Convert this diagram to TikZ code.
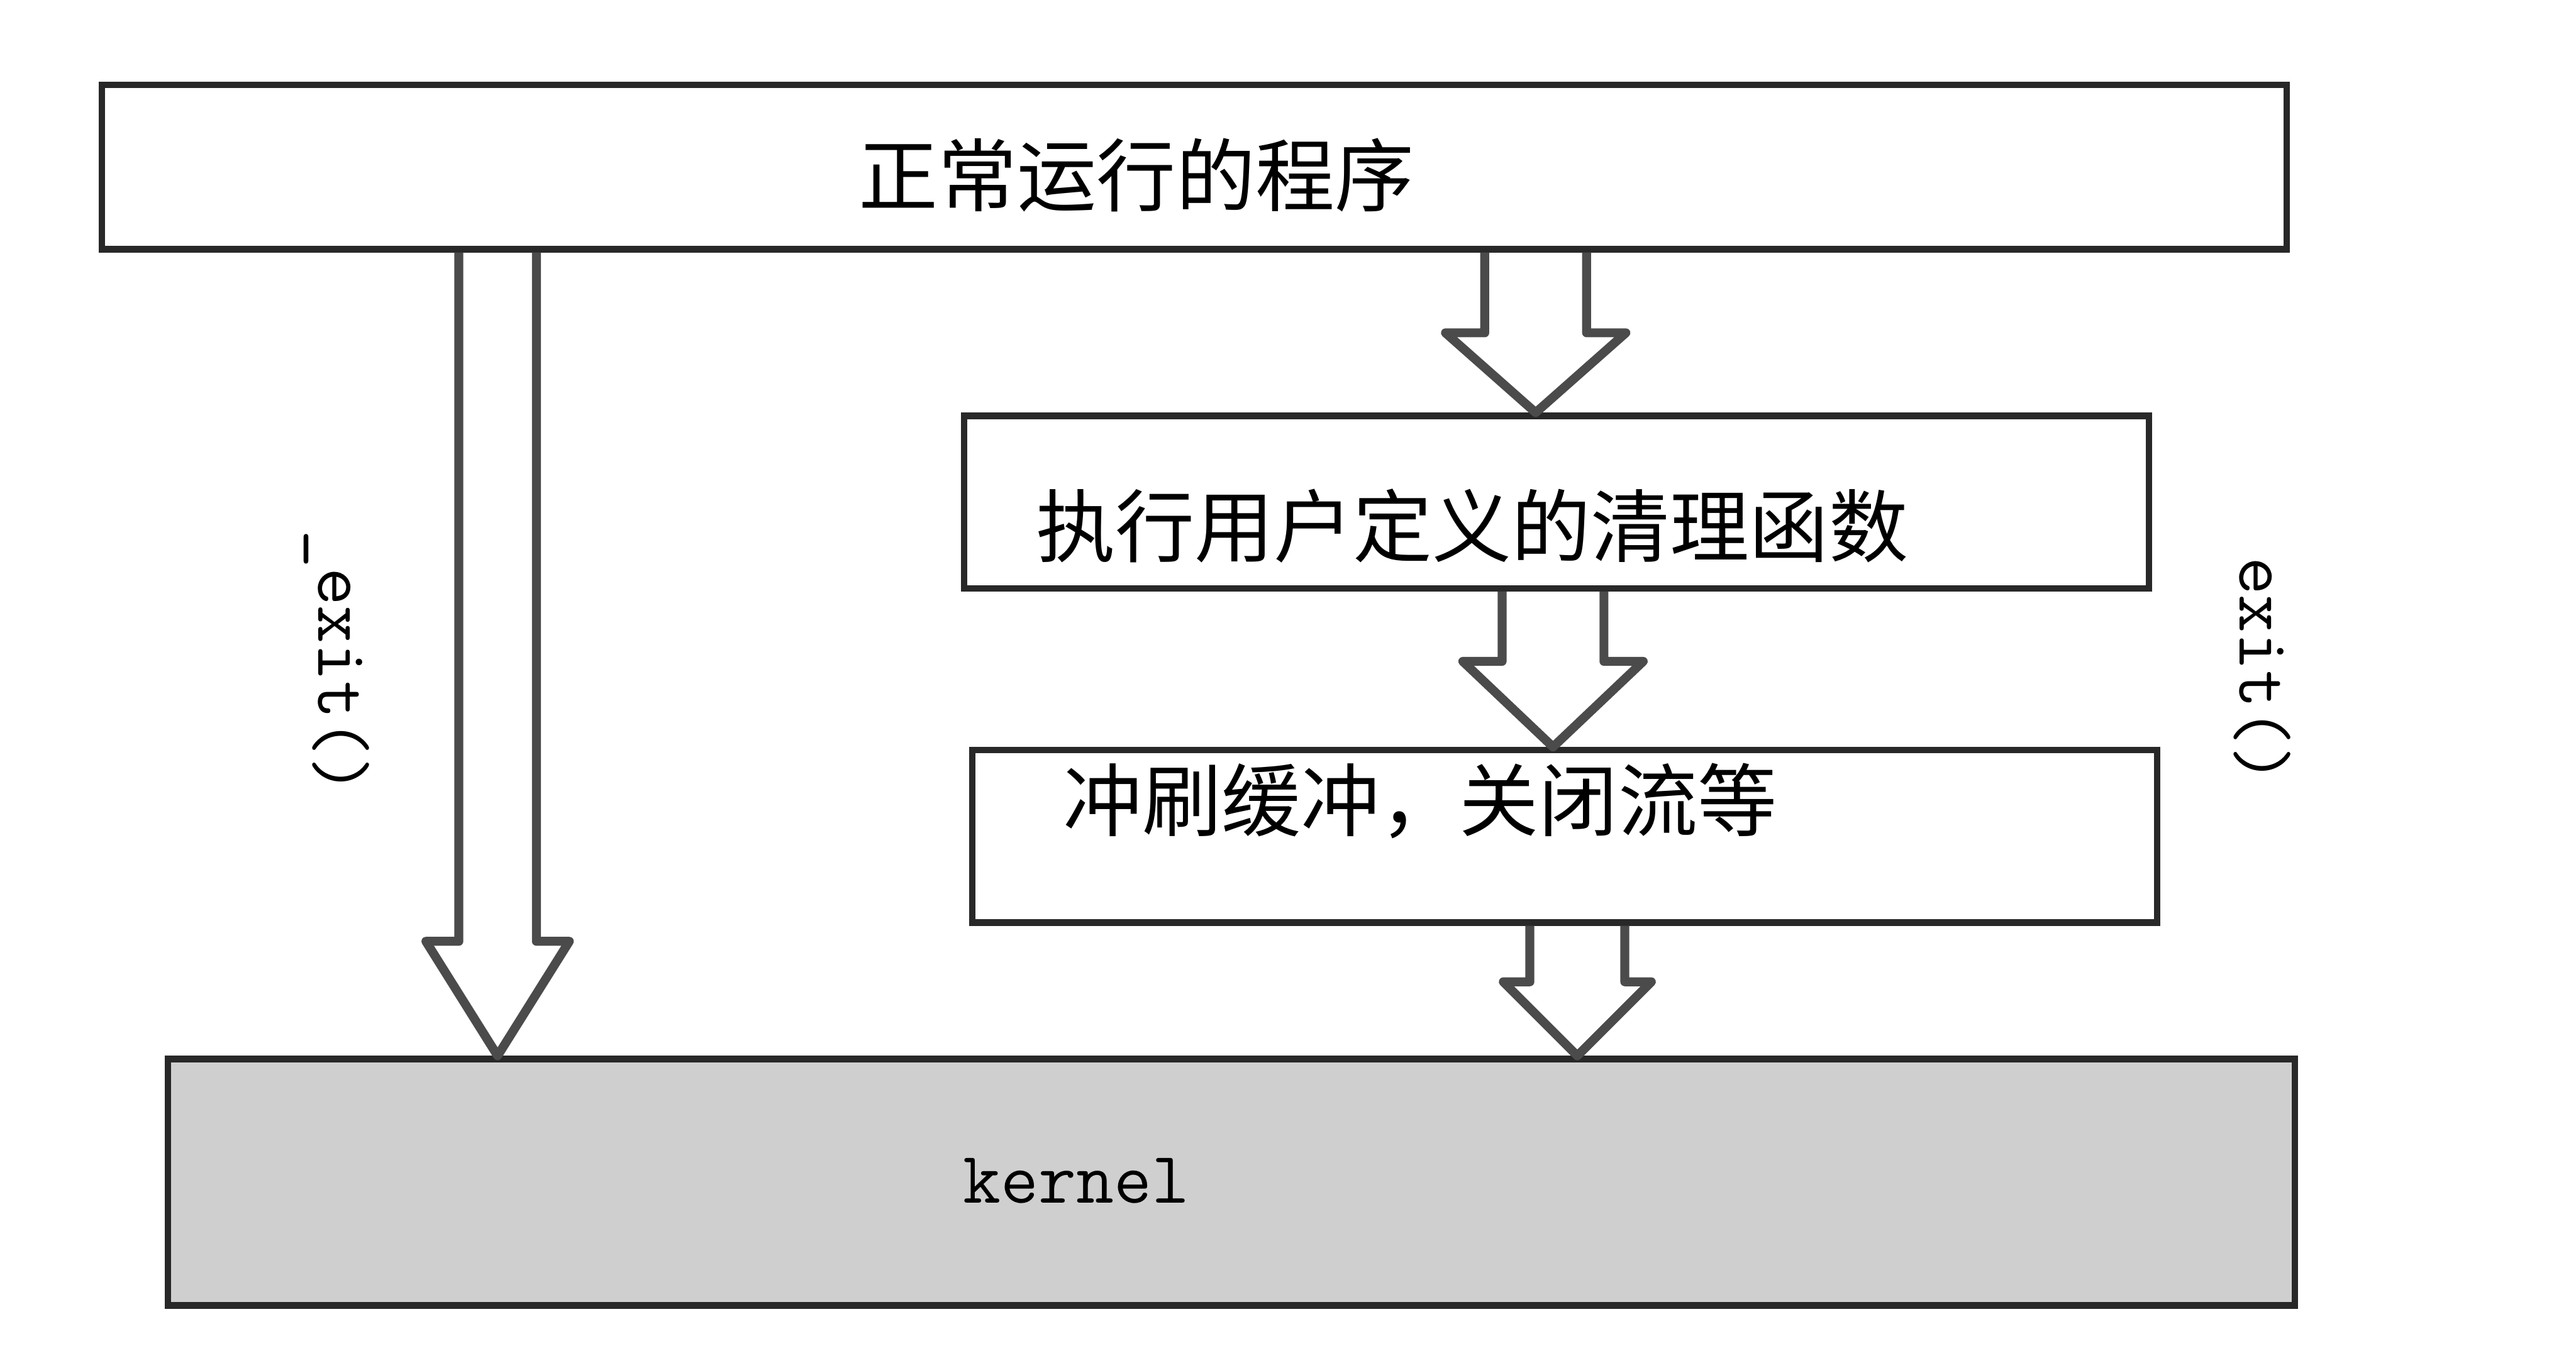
\documentclass[tikz,border=0pt]{standalone}
\usepackage{fontspec}
\usepackage{tikz}
\usetikzlibrary{calc}
\newfontfamily\cjk{Noto Sans CJK SC}
\definecolor{lineC}{RGB}{40,40,40}
\definecolor{arrowC}{RGB}{75,75,75}
\definecolor{kernC}{RGB}{207,207,207}
\tikzset{
  stage/.style={rectangle, draw=lineC, line width=1.6pt, fill=white, inner sep=0pt},
  cjktext/.style={font=\cjk\fontsize{19.5}{21}\selectfont, inner sep=0pt},
  monotext/.style={font=\ttfamily\fontsize{18}{20}\selectfont, inner sep=0pt},
  hollow/.style={draw=arrowC, line width=2.2pt, line join=round},
}
\newcommand{\fatarrow}[5]{%
  \draw[hollow] let \p1=(#1), \p2=(#2) in
    (\x1-#3,\y1) -- (\x1-#3,\y2+#5) -- (\x1-#4,\y2+#5) -- (\x1,\y2)
    -- (\x1+#4,\y2+#5) -- (\x1+#3,\y2+#5) -- (\x1+#3,\y1);}

\begin{document}
\begin{tikzpicture}
\useasboundingbox (0,0) rectangle (22.26,11.825);
\node[stage, minimum width=18.88cm, minimum height=1.42cm] (prog) at (10.32,10.38) {};
\node[stage, minimum width=10.24cm, minimum height=1.49cm] (clean) at (13.45,7.485) {};
\node[stage, minimum width=10.24cm, minimum height=1.49cm] (flush) at (13.52,4.595) {};
\node[stage, fill=kernC, minimum width=18.38cm, minimum height=2.13cm] (kern) at (10.64,1.605) {};
\node[cjktext] (tprog) at (9.82,10.31) {正常运行的程序};
\node[cjktext] (tclean) at (12.72,7.28) {执行用户定义的清理函数};
\node[cjktext] (tflush) at (12.27,4.90) {冲刷缓冲，关闭流等};
\node[monotext] (tkern) at (9.30,1.62) {kernel};
\node[monotext, rotate=-90] (lexit) at (2.91,6.10) {\_exit()};
\node[monotext, rotate=-90] (rexit) at (19.55,6.03) {exit()};
\fatarrow{[xshift=-6.02cm]prog.south}{kern.north}{0.335cm}{0.62cm}{0.99cm}
\fatarrow{[xshift=2.95cm]prog.south}{clean.north}{0.44cm}{0.78cm}{0.69cm}
\fatarrow{[xshift=-0.03cm]clean.south}{flush.north}{0.44cm}{0.78cm}{0.74cm}
\fatarrow{[xshift=0.11cm]flush.south}{kern.north}{0.41cm}{0.64cm}{0.64cm}
\end{tikzpicture}
\end{document}
